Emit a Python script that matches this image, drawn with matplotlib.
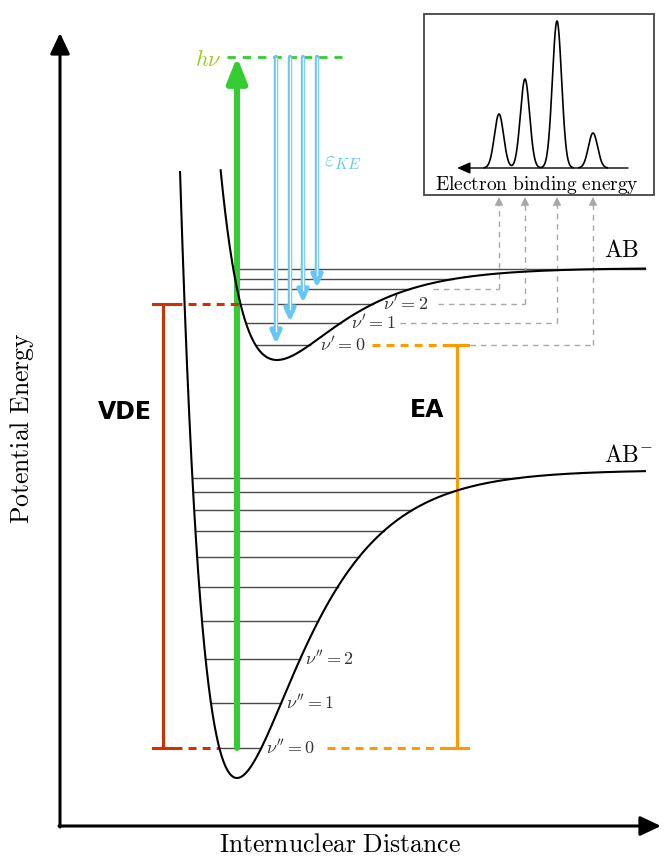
import numpy as np
import matplotlib
matplotlib.use('Agg')
import matplotlib.pyplot as plt
from matplotlib.patches import FancyArrowPatch, Rectangle

plt.rcParams['mathtext.fontset'] = 'cm'

# ---- data (diagram units: x to the right, y = downward screen units) ----
anion_morse = dict(x0=237, ymin=778, depth=308, a=0.01539)     # AB-
neutral_morse = dict(x0=277, ymin=360, depth=92, a=0.0158)     # AB
curve_top = 170
curve_right = 645

anion_levels = [748, 703, 659, 621, 587, 557, 531, 510, 492, 478]
neutral_levels = [345, 323, 304, 289, 279, 269]

anion_labels = [r"$\nu''=0$", r"$\nu''=1$", r"$\nu''=2$"]
neutral_labels = [r"$\nu'=0$", r"$\nu'=1$", r"$\nu'=2$"]

# photoelectron spectrum (one peak per final level nu'=0..3)
peak_pos = [593, 557, 525, 499]
peak_heights = [35, 147, 89, 54]
peak_sigma = 4.6
spec_base = 168

hv_level = 57
photon_x = 237
ke_arrow_x = [276, 290, 303, 317]
gray_start = [470, 400, 438, 433]

vde_x = 163
ea_x = 457

GREEN = '#33cc33'
BLUE = '#66c6f7'
RED = '#cc3300'
ORANGE = '#ff9900'
GRAY = '#a8a8a8'
LEV = '#4a4a4a'


def morse(x, p):
    return p['ymin'] - p['depth'] * (1 - np.exp(-p['a'] * (x - p['x0']))) ** 2


def turning(y, p):
    V = p['ymin'] - y
    s = np.sqrt(V / p['depth'])
    left = p['x0'] - np.log(1 + s) / p['a']
    right = curve_right if s > 0.99 else min(p['x0'] - np.log(1 - s) / p['a'], curve_right)
    return left, right


fig = plt.figure(figsize=(6.64, 8.59), dpi=100)
ax = fig.add_axes([0, 0, 1, 1])
ax.set_xlim(0, 664)
ax.set_ylim(859, 0)
ax.axis('off')

# axes arrows
for (x0, y0, x1, y1) in [(60, 827, 60, 33), (59, 826, 661, 826)]:
    ax.add_patch(FancyArrowPatch((x0, y0), (x1, y1), arrowstyle='-|>,head_length=0.7,head_width=0.33',
                                 mutation_scale=18, lw=2.2, color='black', shrinkA=0, shrinkB=0, zorder=5))

# curves
xs = np.linspace(150, curve_right, 3000)
for p in (anion_morse, neutral_morse):
    ys = morse(xs, p)
    m = ys >= curve_top
    ax.plot(xs[m], ys[m], color='black', lw=1.5, zorder=4)

# vibrational levels
anion_ends = []
for y in anion_levels:
    l, r = turning(y, anion_morse)
    anion_ends.append(r)
    ax.plot([l, r], [y, y], color=LEV, lw=1.0, zorder=2)
neutral_ends = []
for y in neutral_levels:
    l, r = turning(y, neutral_morse)
    neutral_ends.append(r)
    ax.plot([l, r], [y, y], color=LEV, lw=1.0, zorder=2)

for lab, y, r in zip(anion_labels, anion_levels, anion_ends):
    ax.text(r + 5, y, lab, fontsize=13, va='center', ha='left', color='#333333', zorder=6)
for lab, y, r in zip(neutral_labels, neutral_levels, neutral_ends):
    ax.text(r + 10, y, lab, fontsize=13, va='center', ha='left', color='#333333', zorder=6)

# photon arrow
ax.plot([227, 342], [hv_level, hv_level], color=GREEN, lw=2.0, ls=(0, (3, 2.5)), zorder=3)
ax.add_patch(FancyArrowPatch((photon_x, anion_levels[0]), (photon_x, hv_level),
                             arrowstyle='-|>,head_length=0.75,head_width=0.3', mutation_scale=20,
                             lw=4.3, color=GREEN, shrinkA=0, shrinkB=0, zorder=3))
ax.text(208, 60, r'$h\nu$', fontsize=16, color='#99cc22', ha='center', va='center')

# kinetic energy arrows
for x, y in zip(ke_arrow_x, neutral_levels[:4]):
    ax.add_patch(FancyArrowPatch((x, hv_level), (x, y - 1),
                                 arrowstyle='-|>,head_length=0.6,head_width=0.27', mutation_scale=12,
                                 lw=3.2, color=BLUE, shrinkA=0, shrinkB=0, zorder=3))
    ax.plot([x, x], [hv_level + 1, y - 14], color='white', lw=1.0, zorder=3.5)
ax.text(343, 162, r'$\varepsilon_{KE}$', fontsize=16, color=BLUE, ha='center', va='center')

# VDE bracket
vde_top = neutral_levels[2]
vde_bot = anion_levels[0]
ax.plot([vde_x, vde_x], [vde_top, vde_bot], color=RED, lw=2.2, zorder=3)
for y in (vde_top, vde_bot):
    ax.plot([vde_x - 10, vde_x + 11], [y, y], color=RED, lw=2.2, zorder=3)
ax.plot([vde_x + 11, turning(vde_top, neutral_morse)[0]], [vde_top, vde_top], color=RED, lw=2.2,
        ls=(0, (2.6, 2)), zorder=3)
ax.plot([vde_x + 11, turning(vde_bot, anion_morse)[0]], [vde_bot, vde_bot], color=RED, lw=2.2,
        ls=(0, (2.6, 2)), zorder=3)
ax.text(125, 412, 'VDE', fontsize=17, fontweight='bold', ha='center', va='center', family='DejaVu Sans')

# EA bracket
ea_top = neutral_levels[0]
ea_bot = anion_levels[0]
ax.plot([ea_x, ea_x], [ea_top, ea_bot], color=ORANGE, lw=2.2, zorder=3)
for y in (ea_top, ea_bot):
    ax.plot([ea_x - 11, ea_x + 11], [y, y], color=ORANGE, lw=2.2, zorder=3)
ax.plot([372, ea_x - 11], [ea_top, ea_top], color=ORANGE, lw=2.2, ls=(0, (2.6, 2)), zorder=3)
ax.plot([327, ea_x - 11], [ea_bot, ea_bot], color=ORANGE, lw=2.2, ls=(0, (2.6, 2)), zorder=3)
ax.text(427, 410, 'EA', fontsize=17, fontweight='bold', ha='center', va='center', family='DejaVu Sans')

# gray dashed connectors to spectrum
for x, y, xs0 in zip(peak_pos, neutral_levels[:4], gray_start):
    ax.plot([xs0, x], [y, y], color=GRAY, lw=1.0, ls=(0, (4, 3.5)), zorder=2)
    ax.plot([x, x], [y, 205], color=GRAY, lw=1.0, ls=(0, (4, 3.5)), zorder=2)
    ax.add_patch(FancyArrowPatch((x, 206), (x, 197), arrowstyle='-|>,head_length=0.5,head_width=0.25',
                                 mutation_scale=10, lw=0.8, color=GRAY, shrinkA=0, shrinkB=0))

# spectrum box
ax.add_patch(Rectangle((424, 14), 230, 181, facecolor='white', edgecolor='#444444', lw=1.3, zorder=4))
ax.add_patch(FancyArrowPatch((628, spec_base), (457, spec_base), arrowstyle='-|>,head_length=0.8,head_width=0.35',
                             mutation_scale=10, lw=1.0, color='black', shrinkA=0, shrinkB=0, zorder=5))
sx = np.linspace(470, 620, 1500)
sy = np.zeros_like(sx)
for c, h in zip(peak_pos, peak_heights):
    sy += h * np.exp(-(sx - c) ** 2 / (2 * peak_sigma ** 2))
m = sy > 0.3
segs = np.split(np.arange(len(sx)), np.where(np.diff(m.astype(int)) != 0)[0] + 1)
for idx in segs:
    if m[idx[0]]:
        ax.plot(sx[idx], spec_base - sy[idx], color='black', lw=1.2, zorder=5)
ax.text(537, 185, r'$\mathrm{Electron\ binding\ energy}$', fontsize=14, ha='center', va='center', zorder=6)

# labels
ax.text(622, 250, r'$\mathrm{AB}$', fontsize=17, ha='center', va='center')
ax.text(628, 455, r'$\mathrm{AB}^{\mathbf{-}}$', fontsize=17, ha='center', va='center')
ax.text(340, 845, r'$\mathrm{Internuclear\ Distance}$', fontsize=18.5, ha='center', va='center')
ax.text(22, 428, r'$\mathrm{Potential\ Energy}$', fontsize=18.5, ha='center', va='center', rotation=90)

fig.savefig('out.png', dpi=100)
